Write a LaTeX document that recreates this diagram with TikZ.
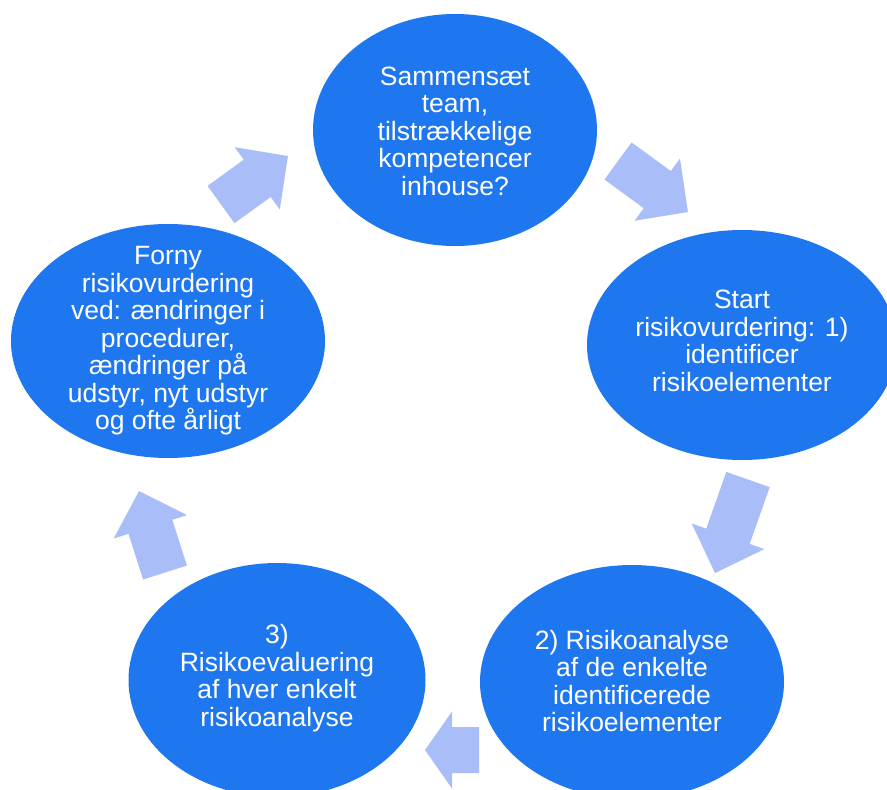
\documentclass[tikz,border=0pt]{standalone}
\usepackage{fontspec}
\setmainfont{Liberation Sans}
\usetikzlibrary{shapes.geometric}

\definecolor{bubbleblue}{RGB}{31,119,240}
\definecolor{arrowblue}{RGB}{169,189,248}

\tikzset{
  bubble/.style={ellipse, fill=bubbleblue, draw=none, inner sep=0pt},
  bubbletext/.style={text=white, align=center, inner sep=0pt,
    font=\fontsize{26.5}{27.5}\selectfont},
  % block arrow centred on the origin, pointing along +x:
  % #1 = total length, #2 = head length
  pics/blockarrow/.style n args={2}{code={
    \fill[arrowblue]
      (-#1/2,-23) -- (#1/2-#2,-23) -- (#1/2-#2,-38.5) -- (#1/2,0)
      -- (#1/2-#2,38.5) -- (#1/2-#2,23) -- (-#1/2,23) -- cycle;
  }}
}

\begin{document}
\begin{tikzpicture}[x=1pt,y=1pt]
  \useasboundingbox (0,0) rectangle (887,-790);

  % the five steps of the cycle
  \node[bubble, minimum width=284pt, minimum height=232pt] (team)  at (455,-130) {};
  \node[bubble, minimum width=310pt, minimum height=230pt] (start) at (742,-345) {};
  \node[bubble, minimum width=304pt, minimum height=234pt] (analyse) at (632,-682) {};
  \node[bubble, minimum width=297pt, minimum height=234pt] (evaluer) at (277,-680) {};
  \node[bubble, minimum width=314pt, minimum height=234pt] (forny) at (168,-341) {};

  \node[bubbletext] (teamtxt) at (455,-131)
    {Sammensæt\\team,\\tilstrækkelige\\kompetencer\\inhouse?};
  \node[bubbletext] (starttxt) at (742,-341)
    {Start\\risikovurdering: 1)\\identificer\\risikoelementer};
  \node[bubbletext] (analysetxt) at (632,-681)
    {2) Risikoanalyse\\af de enkelte\\identificerede\\risikoelementer};
  \node[bubbletext] (evaluertxt) at (277,-678)
    {3)\\Risikoevaluering\\af hver enkelt\\risikoanalyse};
  \node[bubbletext] (fornytxt) at (168,-341)
    {Forny\\risikovurdering\\ved: ændringer i\\procedurer,\\ændringer på\\udstyr, nyt udstyr\\og ofte årligt};

  % block arrows leading from one step to the next
  \pic[rotate=35.9]   at (254.5,-180.3) {blockarrow={82.7}{38}};
  \pic[rotate=-36.1]  at (653,-186.5)   {blockarrow={86.6}{38}};
  \pic[rotate=-109.4] at (731.5,-526.3) {blockarrow={99.2}{39}};
  \pic[rotate=180]    at (452,-750)     {blockarrow={54}{27}};
  \pic[rotate=107.7]  at (152,-531.8)   {blockarrow={85.5}{37.5}};
\end{tikzpicture}
\end{document}
